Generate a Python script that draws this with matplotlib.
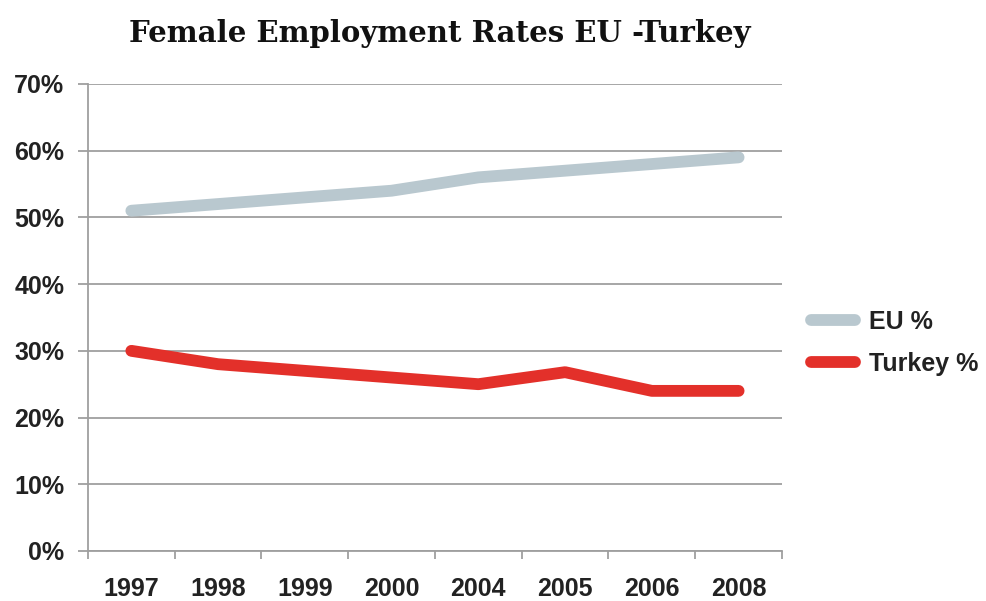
import numpy as np
import matplotlib
matplotlib.use("Agg")
import matplotlib.pyplot as plt
from matplotlib.font_manager import FontProperties

years = ["1997", "1998", "1999", "2000", "2004", "2005", "2006", "2008"]
eu_pct = [51, 52, 53, 54, 56, 57, 58, 59]
turkey_pct = [30, 28, 27, 26, 25, 26.8, 24, 24]

fig = plt.figure(figsize=(9.86, 6.01), dpi=100)
ax = fig.add_axes([0.0892, 0.0832, 0.7039, 0.7771])

x = np.arange(len(years))
ax.plot(x, eu_pct, color="#b9c8cf", lw=8.5, solid_capstyle="round",
        solid_joinstyle="round", label="EU %", zorder=3)
ax.plot(x, turkey_pct, color="#e3302a", lw=8.5, solid_capstyle="round",
        solid_joinstyle="round", label="Turkey %", zorder=3)

ax.set_xlim(-0.5, len(years) - 0.5)
ax.set_ylim(0, 70)
ax.set_yticks(range(0, 71, 10))
ax.set_yticklabels([f"{v}%" for v in range(0, 71, 10)])
ax.set_xticks(x)
ax.set_xticklabels(years)
ax.set_xticks(np.arange(-0.5, len(years), 1.0), minor=True)

grid_c = "#9f9f9f"
ax.yaxis.grid(True, color=grid_c, lw=1.3)
ax.set_axisbelow(True)
for s in ["top", "right"]:
    ax.spines[s].set_visible(False)
for s in ["left", "bottom"]:
    ax.spines[s].set_color(grid_c)
    ax.spines[s].set_linewidth(1.3)

# bold sans labels everywhere
lab_font = FontProperties(family="Liberation Sans", weight="bold", size=18)
ax.tick_params(axis="y", length=7, width=1.3, color=grid_c, pad=10)
ax.tick_params(axis="x", which="major", length=0, pad=19)
ax.tick_params(axis="x", which="minor", length=6, width=1.3, color=grid_c, direction="out")
for t in ax.get_xticklabels() + ax.get_yticklabels():
    t.set_fontproperties(lab_font)
    t.set_color("#222222")

fig.text(0.4457, 0.945, "Female Employment Rates EU -Turkey", ha="center", va="center",
         fontfamily="DejaVu Serif", fontweight="bold", fontsize=21, color="#111111")

leg = fig.legend(loc="center left", bbox_to_anchor=(0.8, 0.43), frameon=False,
                 handlelength=1.75, handletextpad=0.55, labelspacing=0.72,
                 prop=lab_font)
for t in leg.get_texts():
    t.set_color("#222222")

fig.savefig("out.png", dpi=100)
